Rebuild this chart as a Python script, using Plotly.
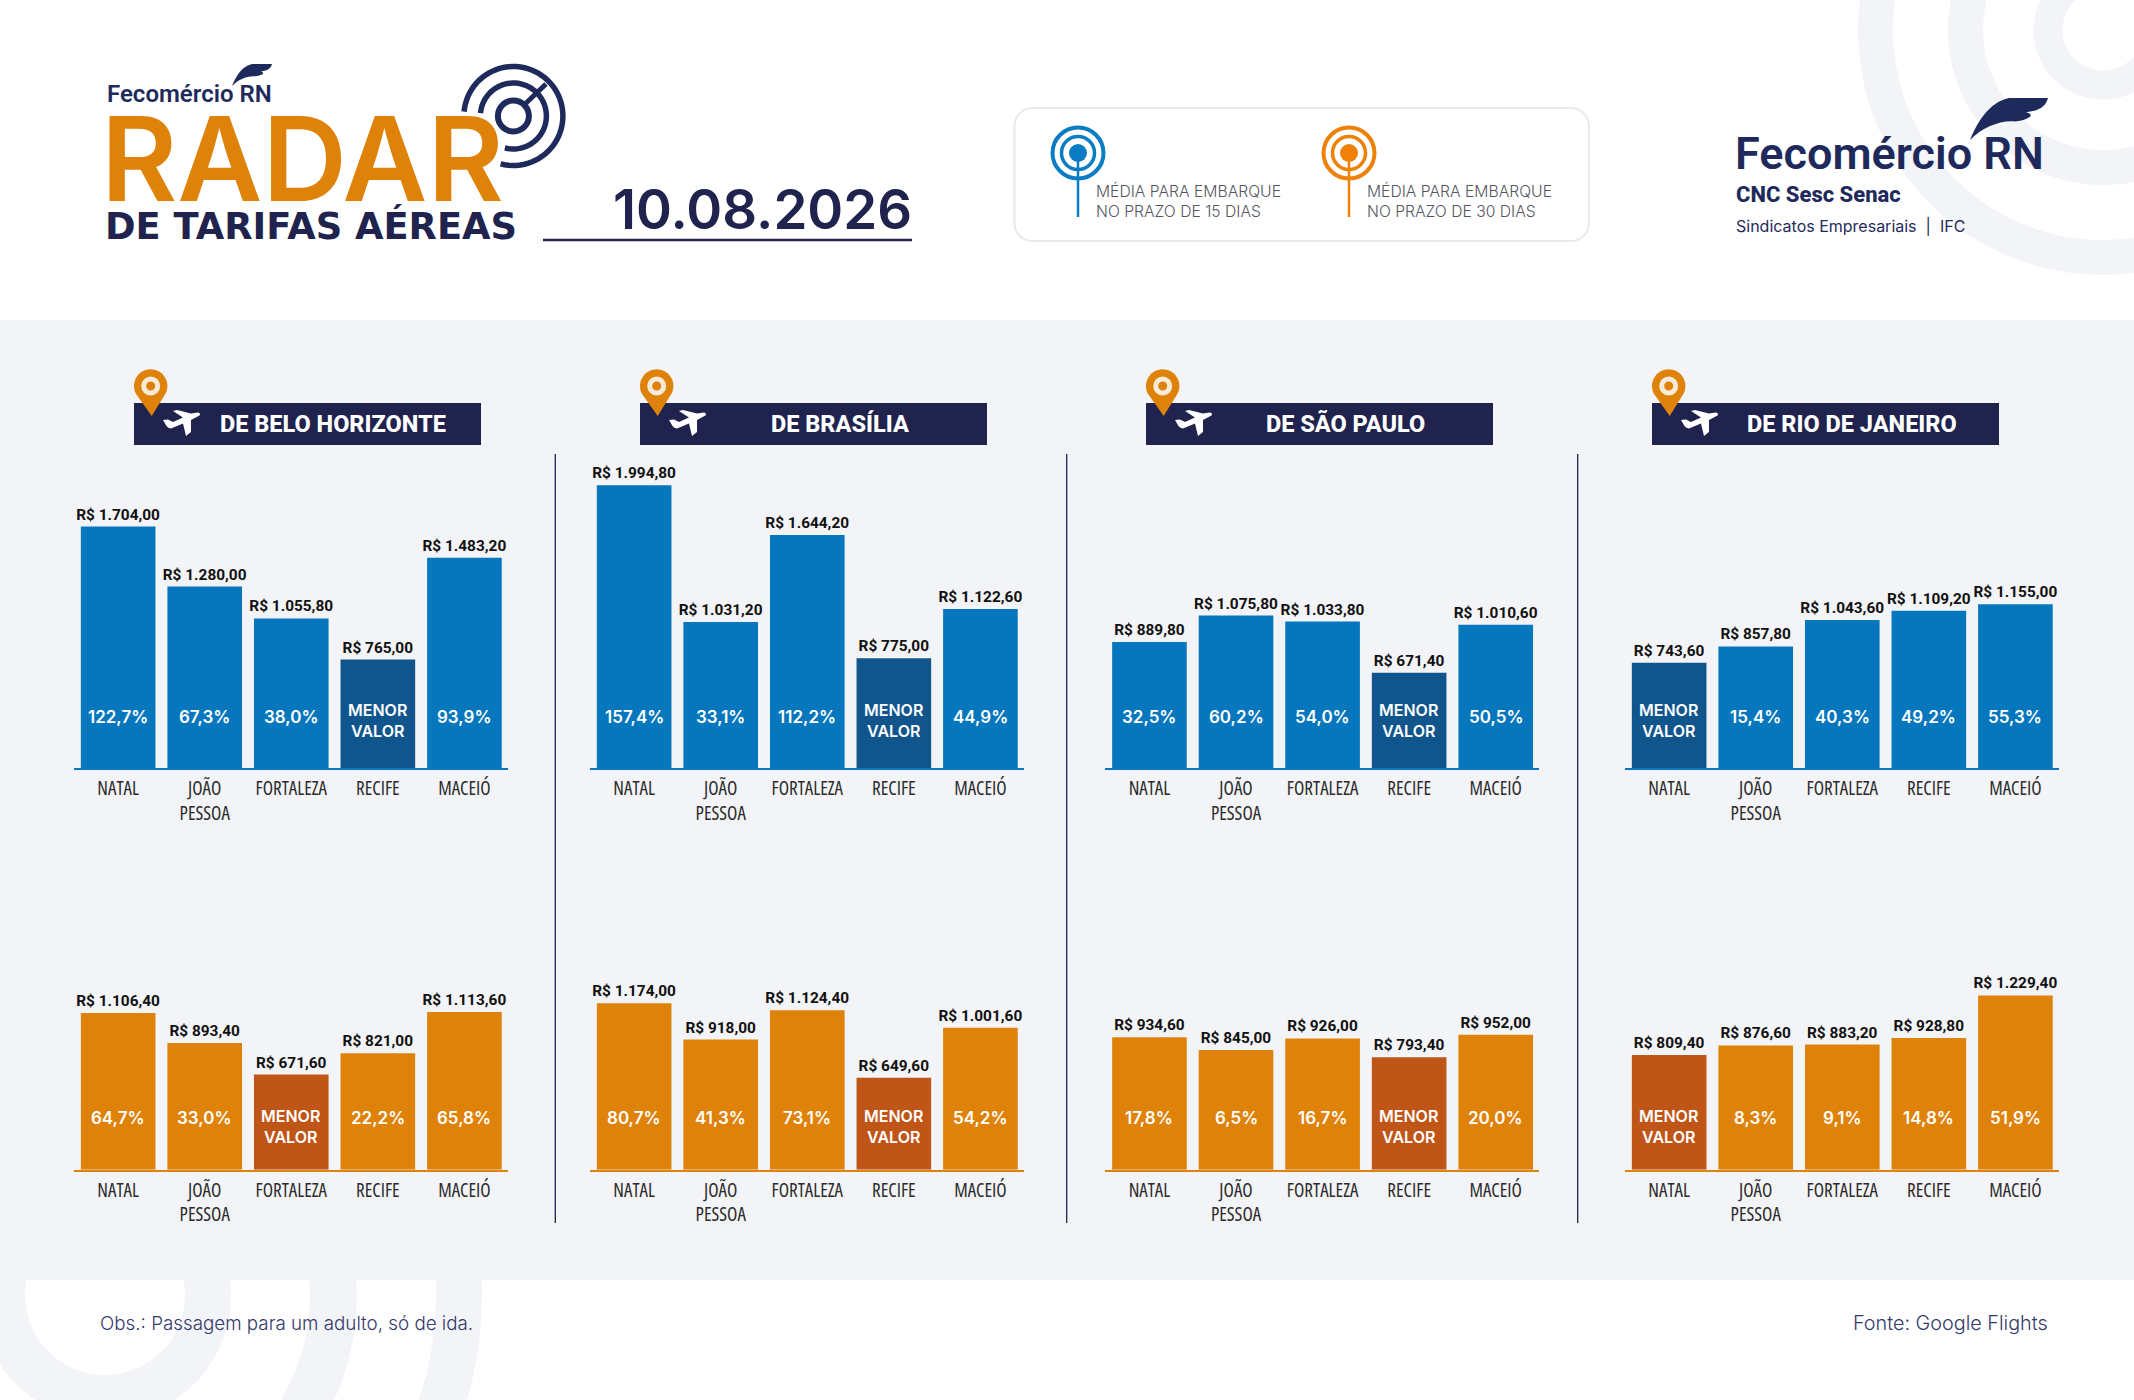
import re
import math
import plotly.graph_objects as go

W, H = 2134, 1400

cities = ["NATAL", "JOÃO<br>PESSOA", "FORTALEZA", "RECIFE", "MACEIÓ"]
origins = ["DE BELO HORIZONTE", "DE BRASÍLIA", "DE SÃO PAULO", "DE RIO DE JANEIRO"]

# embarque em 15 dias
bh_15 = [1704.00, 1280.00, 1055.80, 765.00, 1483.20]
bsb_15 = [1994.80, 1031.20, 1644.20, 775.00, 1122.60]
sp_15 = [889.80, 1075.80, 1033.80, 671.40, 1010.60]
rj_15 = [743.60, 857.80, 1043.60, 1109.20, 1155.00]
bh_15_pct = [122.7, 67.3, 38.0, None, 93.9]
bsb_15_pct = [157.4, 33.1, 112.2, None, 44.9]
sp_15_pct = [32.5, 60.2, 54.0, None, 50.5]
rj_15_pct = [None, 15.4, 40.3, 49.2, 55.3]

# embarque em 30 dias
bh_30 = [1106.40, 893.40, 671.60, 821.00, 1113.60]
bsb_30 = [1174.00, 918.00, 1124.40, 649.60, 1001.60]
sp_30 = [934.60, 845.00, 926.00, 793.40, 952.00]
rj_30 = [809.40, 876.60, 883.20, 928.80, 1229.40]
bh_30_pct = [64.7, 33.0, None, 22.2, 65.8]
bsb_30_pct = [80.7, 41.3, 73.1, None, 54.2]
sp_30_pct = [17.8, 6.5, 16.7, None, 20.0]
rj_30_pct = [None, 8.3, 9.1, 14.8, 51.9]

NAVY = "#20234d"
LOGO_NAVY = "#1f2a5c"
BLUE = "#0677bc"
DARK_BLUE = "#10568c"
ORANGE = "#de8209"
DARK_ORANGE = "#c05518"
PANEL = "#f3f4f7"

# left edge of each x axis, in page pixels
axis_left = [74, 590, 1105.3, 1625]
banner_left = [134, 640, 1146, 1652]
title_x = [333, 840, 1345.7, 1852]
separators = [555.3, 1066.7, 1577.7]
AXIS_W = 433.7
PX_PER_REAL = 0.1417


def X(px):
    return px / W


def Y(py):
    return 1 - py / H


def brl(v):
    s = f"{v:,.2f}".replace(",", "X").replace(".", ",").replace("X", ".")
    return "R$ " + s


def arc_pts(cx, cy, r, a0, a1, n=60):
    return [(cx + r * math.cos(math.radians(a0 + (a1 - a0) * i / n)),
             cy + r * math.sin(math.radians(a0 + (a1 - a0) * i / n))) for i in range(n + 1)]


def poly(pts, close=False):
    d = "M " + " L ".join(f"{X(x):.5f},{Y(y):.5f}" for x, y in pts)
    return d + (" Z" if close else "")


def local_path(d, x0, y0, sx, sy):
    # maps a small path written in local units onto the page
    nums = iter(re.findall(r"[A-Za-z]|-?[\d.]+", d))
    out = []
    for tok in nums:
        if tok.isalpha():
            out.append(tok)
        else:
            x = float(tok)
            y = float(next(nums))
            out.append(f"{X(x0 + x * sx):.5f},{Y(y0 + y * sy):.5f}")
    return " ".join(out)


shapes = []
annotations = []


def add_path(d, fill=None, line=None, width=0):
    shapes.append(dict(type="path", xref="paper", yref="paper", path=d,
                       fillcolor=fill or "rgba(0,0,0,0)",
                       line=dict(color=line or "rgba(0,0,0,0)", width=width)))


def add_circle(cx, cy, r, fill=None, line=None, width=0):
    shapes.append(dict(type="circle", xref="paper", yref="paper",
                       x0=X(cx - r), x1=X(cx + r), y0=Y(cy + r), y1=Y(cy - r),
                       fillcolor=fill or "rgba(0,0,0,0)",
                       line=dict(color=line or "rgba(0,0,0,0)", width=width)))


def add_rect(x0, y0, x1, y1, fill):
    shapes.append(dict(type="rect", xref="paper", yref="paper",
                       x0=X(x0), x1=X(x1), y0=Y(y1), y1=Y(y0),
                       fillcolor=fill, line=dict(width=0)))


def add_line(x0, y0, x1, y1, color, width):
    shapes.append(dict(type="line", xref="paper", yref="paper",
                       x0=X(x0), x1=X(x1), y0=Y(y0), y1=Y(y1),
                       line=dict(color=color, width=width)))


def add_text(text, x, y, size, color, family="Inter", weight=400, anchor="left"):
    annotations.append(dict(text=text, x=X(x), y=Y(y), xref="paper", yref="paper",
                            xanchor=anchor, yanchor="middle", showarrow=False,
                            align=anchor, font=dict(family=family, size=size, color=color, weight=weight)))


FEATHER = "M 0,1 C .1,.55 .25,.1 .5,0 L 1,0 C .97,.2 .9,.3 .72,.34 C .85,.4 .75,.52 .58,.56 C .4,.52 .15,.7 0,1 Z"
PLANE = ("M 0,10 L 5,9.5 L 10,12 L 20,7.5 L 10,1 L 14,0 L 28,3.5 L 35,2.5 Q 38,3 36.5,5.5 L 28,10 "
         "L 28,22 L 23,26 L 20,13.5 L 8,18.5 Q 5,18.5 3.5,16 Z")

# fundo: arcos do canto superior direito e do rodape
for r_mid, lw in [(55, 29), (137.5, 35), (227.5, 35)]:
    add_path(poly(arc_pts(2103, 30, r_mid, 40, 235, 90)), line=PANEL, width=lw)
for r_mid, lw in [(103, 46), (228.5, 47), (354, 46)]:
    add_path(poly(arc_pts(105, 1295, r_mid, -110, 290, 120)), line=PANEL, width=lw)
add_line(0, 1372, 30, 1400, "white", 4)
add_rect(0, 320, W, 1280, PANEL)

# cabecalho esquerdo
add_text("Fecomércio RN", 105, 94, 24, LOGO_NAVY, "Roboto", 600)
add_path(local_path(FEATHER, 232, 64, 40, 22), fill=LOGO_NAVY)
add_circle(513.4, 116, 15.5, line=LOGO_NAVY, width=6)
add_path(poly(arc_pts(513.4, 116, 33, 185, 465)), line=LOGO_NAVY, width=5.5)
add_path(poly(arc_pts(513.4, 116, 49.5, 185, 465)), line=LOGO_NAVY, width=5.5)
add_line(524, 105, 546, 84, LOGO_NAVY, 5)
add_text("RADAR", 99, 158, 117, ORANGE, "Inter", 600)
add_text("DE TARIFAS AÉREAS", 103, 226, 36.8, NAVY, "DejaVu Sans", 700)
add_text("10.08.2026", 914, 209, 54.5, NAVY, "Inter", 600, "right")
add_line(543, 240, 912, 240, NAVY, 2.5)

# legenda
bx0, by0, bx1, by1, br = 1014.5, 108, 1589, 241, 18
box = (arc_pts(bx0 + br, by0 + br, br, 180, 270, 10) + arc_pts(bx1 - br, by0 + br, br, 270, 360, 10)
       + arc_pts(bx1 - br, by1 - br, br, 0, 90, 10) + arc_pts(bx0 + br, by1 - br, br, 90, 180, 10))
add_path(poly(box, True), fill="white", line="#e8e9ed", width=2)
for cx, color, txt in [(1078, "#0a7cc4", "MÉDIA PARA EMBARQUE<br>NO PRAZO DE 15 DIAS"),
                       (1349, "#ef8109", "MÉDIA PARA EMBARQUE<br>NO PRAZO DE 30 DIAS")]:
    add_circle(cx, 153, 25.5, line=color, width=4)
    add_circle(cx, 153, 16.5, line=color, width=3.5)
    add_circle(cx, 153, 9, fill=color)
    add_line(cx, 153, cx, 217, color, 2.5)
    add_text(txt, cx + 16, 200.5, 15.7, "#55565f", "Inter", 300)

# logo da direita
add_path(local_path(FEATHER, 1970, 98, 78, 42), fill=LOGO_NAVY)
add_text("Fecomércio RN", 1733, 154, 45, LOGO_NAVY, "Roboto", 600)
add_text("CNC Sesc Senac", 1734, 195, 22, LOGO_NAVY, "Roboto", 800)
add_text("Sindicatos Empresariais  |  IFC", 1734, 226, 16, LOGO_NAVY, "Inter", 400)

# rodape
add_text("Obs.: Passagem para um adulto, só de ida.", 98, 1323, 18.8, "#343a6b", "Inter", 300)
add_text("Fonte: Google Flights", 2050, 1323, 19.8, "#343a6b", "Inter", 300, "right")

for sx in separators:
    add_line(sx, 454, sx, 1223, NAVY, 1.3)

for i, origin in enumerate(origins):
    bl = banner_left[i]
    add_rect(bl, 403, bl + 347, 445, NAVY)
    add_path(local_path(PLANE, bl + 29, 410, 1, 1), fill="white")
    add_text(origin, title_x[i], 424, 23.5, "white", "Roboto", 800, "center")
    pcx = bl + 16.7
    add_path(poly(arc_pts(pcx, 386, 16.7, 150, 390, 40) + [(pcx + 1, 416)], True), fill=ORANGE)
    add_circle(pcx, 386, 7, line="#f6ead9", width=5)

rows = [
    dict(vals=[bh_15, bsb_15, sp_15, rj_15], pcts=[bh_15_pct, bsb_15_pct, sp_15_pct, rj_15_pct],
         base=768, ymax=2200, color=BLUE, low=DARK_BLUE, menor=48, pct=51),
    dict(vals=[bh_30, bsb_30, sp_30, rj_30], pcts=[bh_30_pct, bsb_30_pct, sp_30_pct, rj_30_pct],
         base=1169.7, ymax=1500, color=ORANGE, low=DARK_ORANGE, menor=43, pct=52),
]

fig = go.Figure()
layout_axes = {}
n = 0
for row in rows:
    for i in range(4):
        n += 1
        vals = row["vals"][i]
        pcts = row["pcts"][i]
        xname, yname = f"x{n}", f"y{n}"
        fig.add_trace(go.Bar(
            x=list(range(5)), y=vals, xaxis=xname, yaxis=yname,
            marker=dict(color=[row["low"] if p is None else row["color"] for p in pcts], line=dict(width=0)),
            text=[brl(v) for v in vals], textposition="outside", textangle=0,
            constraintext="none", cliponaxis=False,
            textfont=dict(family="Roboto", size=15.4, color="#111111", weight=700),
            hoverinfo="skip", showlegend=False,
        ))
        top = row["base"] - row["ymax"] * PX_PER_REAL
        layout_axes[f"xaxis{n}"] = dict(
            domain=[X(axis_left[i]), X(axis_left[i] + AXIS_W)], anchor=yname,
            range=[-0.51, 4.5], tickmode="array", tickvals=list(range(5)), ticktext=cities,
            tickangle=0, automargin=False,
            tickfont=dict(family="Open Sans", size=19, color="#2b2b2b"),
            ticks="", ticklabelstandoff=2, showline=True, linecolor=row["color"], linewidth=2,
            showgrid=False, zeroline=False, fixedrange=True)
        layout_axes[f"yaxis{n}"] = dict(
            domain=[Y(row["base"]), Y(top)], anchor=xname, range=[0, row["ymax"]],
            visible=False, fixedrange=True, automargin=False)
        for j, p in enumerate(pcts):
            is_low = p is None
            label = "MENOR<br>VALOR" if is_low else f"{p:.1f}%".replace(".", ",")
            annotations.append(dict(
                text=label, x=j, y=0, xref=xname, yref=yname, yanchor="middle", xanchor="center",
                yshift=row["menor"] if is_low else row["pct"], showarrow=False,
                font=dict(family="Inter", size=16 if is_low else 17, color="white", weight=600)))

fig.update_layout(
    width=W, height=H, margin=dict(l=0, r=0, t=0, b=0),
    paper_bgcolor="white", plot_bgcolor="rgba(0,0,0,0)",
    bargap=0.138, showlegend=False,
    shapes=[dict(s, layer="below") for s in shapes],
    annotations=annotations,
    **layout_axes,
)

# condensed width for the tick labels
page_css = ("document.body.style.margin='0';document.body.style.overflow='hidden';"
            "document.head.insertAdjacentHTML('beforeend',"
            "'<style>[class$=\"tick\"] text{font-stretch:75%!important}</style>');")
fig.write_html("out.html", config=dict(displayModeBar=False), post_script=page_css)
